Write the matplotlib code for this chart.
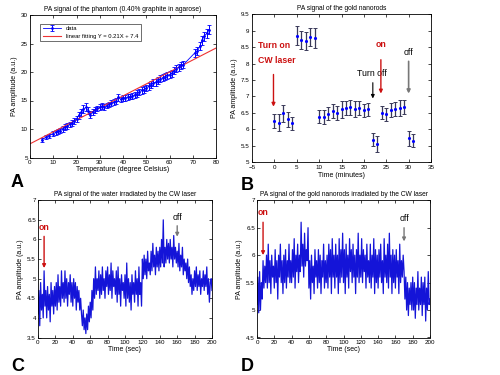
import matplotlib
matplotlib.use("Agg")
import matplotlib.pyplot as plt
import numpy as np

plt.rcParams['font.family'] = ['Liberation Sans', 'DejaVu Sans']

# ---------------- Panel A data ----------------
temp_a = [5, 7, 8, 10, 11, 12, 13, 14, 15, 16, 17, 18, 19, 20, 21, 22, 23, 24, 25, 26,
          27, 28, 29, 30, 31, 32, 33, 34, 35, 36, 37, 38, 39, 40, 41, 42, 43, 44, 45, 46,
          47, 48, 49, 50, 51, 52, 53, 54, 55, 56, 57, 58, 59, 60, 61, 62, 63, 64, 65, 66,
          71, 72, 73, 74, 75, 76, 77]
pa_a = [8.1, 8.6, 8.8, 9.2, 9.4, 9.6, 9.7, 10.0, 10.3, 10.5, 10.8, 11.1, 11.4, 11.8, 12.4, 12.9, 13.5, 13.8, 13.2, 12.5,
        13.0, 13.3, 13.6, 13.8, 14.0, 13.9, 14.1, 14.3, 14.6, 14.7, 14.9, 15.6, 15.2, 15.4, 15.5, 15.6, 15.7, 15.8, 16.0, 16.2,
        16.5, 16.8, 16.9, 17.2, 17.5, 17.8, 18.1, 18.2, 18.5, 18.8, 19.0, 19.2, 19.4, 19.5, 19.8, 20.2, 20.6, 20.8, 21.2, 21.3,
        23.4, 23.6, 24.5, 25.6, 26.3, 26.8, 27.4]
err_a = [0.4, 0.4, 0.4, 0.4, 0.4, 0.4, 0.4, 0.5, 0.5, 0.5, 0.5, 0.5, 0.5, 0.5, 0.6, 0.6, 0.7, 0.7, 0.6, 0.6,
         0.5, 0.5, 0.5, 0.5, 0.5, 0.5, 0.5, 0.5, 0.5, 0.5, 0.5, 0.6, 0.5, 0.5, 0.5, 0.5, 0.5, 0.5, 0.5, 0.6,
         0.6, 0.6, 0.6, 0.6, 0.6, 0.6, 0.6, 0.6, 0.6, 0.6, 0.6, 0.6, 0.6, 0.6, 0.6, 0.6, 0.6, 0.6, 0.6, 0.6,
         0.7, 0.7, 0.7, 0.8, 0.8, 0.8, 0.8]
fit_slope = 0.21
fit_intercept = 7.4
fit_x = [0, 80]

# ---------------- Panel B data ----------------
time_b = [0, 1, 2, 3, 4, 5, 6, 7, 8, 9, 10, 11, 12, 13, 14, 15, 16, 17, 18, 19, 20, 21,
          22, 23, 24, 25, 26, 27, 28, 29, 30, 31]
pa_b = [6.25, 6.2, 6.48, 6.3, 6.18, 8.85, 8.72, 8.68, 8.8, 8.78, 6.38, 6.37, 6.47, 6.55, 6.5, 6.6,
        6.65, 6.66, 6.62, 6.65, 6.58, 6.6, 5.68, 5.55, 6.5, 6.45, 6.58, 6.62, 6.65, 6.68, 5.72, 5.65]
err_b = [0.2, 0.25, 0.25, 0.22, 0.2, 0.28, 0.28, 0.28, 0.27, 0.3, 0.2, 0.2, 0.2, 0.22, 0.22, 0.25,
         0.22, 0.22, 0.25, 0.22, 0.2, 0.2, 0.2, 0.25, 0.2, 0.2, 0.22, 0.22, 0.25, 0.22, 0.22, 0.2]

# ---------------- Panel C data (water) ----------------
pa_c = [4.1, 4.7, 3.8, 4.9, 4.2, 4.6, 4.0, 5.2, 4.3, 4.7,
        4.0, 4.8, 4.2, 4.6, 3.9, 4.9, 4.3, 4.7, 4.1, 4.8,
        4.3, 4.9, 4.2, 5.1, 4.4, 4.8, 4.3, 5.2, 4.5, 4.9,
        4.4, 5.2, 4.5, 5.0, 4.3, 4.9, 4.6, 5.1, 4.4, 4.9,
        4.3, 5.0, 4.5, 4.9, 4.2, 4.8, 4.4, 4.7, 4.2, 4.5,
        4.1, 3.8, 4.2, 3.7, 4.0, 3.6, 4.1, 3.7, 4.3, 3.9,
        4.4, 4.0, 4.7, 4.2, 5.0, 4.5, 5.3, 4.6, 5.0, 4.7,
        5.2, 4.5, 5.1, 4.6, 5.3, 4.7, 5.0, 4.5, 5.2, 4.8,
        5.3, 4.6, 5.1, 4.7, 5.4, 4.5, 5.2, 4.8, 5.0, 4.6,
        5.2, 4.4, 5.3, 4.6, 5.0, 4.3, 5.1, 4.7, 4.9, 4.5,
        5.1, 4.3, 5.4, 4.5, 5.0, 4.4, 4.9, 4.2, 5.1, 4.6,
        4.9, 4.4, 5.2, 4.6, 5.0, 4.3, 5.3, 4.6, 4.9, 4.3,
        5.5, 5.0, 5.6, 5.1, 5.5, 5.0, 5.7, 5.2, 5.4, 5.1,
        5.7, 5.2, 5.9, 5.3, 5.6, 5.1, 5.8, 5.3, 5.7, 5.2,
        5.8, 5.3, 6.0, 5.4, 6.5, 5.3, 5.8, 5.4, 6.0, 5.5,
        5.9, 5.4, 6.0, 5.5, 5.8, 5.3, 6.1, 5.5, 5.8, 5.4,
        5.7, 5.3, 5.9, 5.2, 5.6, 5.3, 5.8, 5.1, 5.5, 5.2,
        5.4, 5.0, 5.5, 4.9, 5.3, 4.8, 5.1, 4.6, 5.0, 4.7,
        5.2, 4.8, 5.3, 4.7, 5.1, 4.8, 5.2, 4.6, 5.0, 4.8,
        5.2, 4.7, 5.1, 4.8, 5.3, 4.6, 5.0, 4.4, 4.9, 5.0, 4.7]

# ---------------- Panel D data (gold nanorods) ----------------
pa_d = [5.1, 5.6, 4.95, 5.7, 5.0, 5.5, 5.2, 5.9, 5.4, 5.8,
        5.5, 6.0, 5.4, 6.2, 5.5, 5.9, 5.3, 6.0, 5.6, 5.8,
        5.4, 6.1, 5.5, 5.9, 5.2, 6.0, 5.6, 6.2, 5.5, 5.9,
        5.3, 6.0, 5.5, 6.1, 5.4, 5.9, 5.6, 6.2, 5.5, 5.9,
        5.5, 6.1, 5.6, 6.3, 5.4, 6.0, 5.7, 6.2, 5.5, 6.0,
        5.7, 6.6, 5.8, 6.2, 5.6, 6.4, 5.8, 6.1, 5.9, 6.5,
        5.4, 5.9, 5.2, 6.0, 5.5, 5.8, 5.3, 6.1, 5.6, 5.9,
        5.4, 6.1, 5.5, 6.0, 5.3, 5.9, 5.6, 6.2, 5.4, 5.9,
        5.5, 6.0, 5.4, 6.2, 5.6, 6.1, 5.3, 6.3, 5.6, 6.0,
        5.4, 6.2, 5.6, 6.0, 5.3, 6.3, 5.5, 6.1, 5.6, 6.4,
        5.5, 6.1, 5.3, 6.2, 5.6, 6.0, 5.4, 6.3, 5.7, 6.1,
        5.5, 6.2, 5.6, 6.0, 5.3, 6.1, 5.6, 6.4, 5.5, 6.0,
        5.6, 6.3, 5.5, 6.1, 5.7, 6.0, 5.4, 6.2, 5.6, 5.9,
        5.5, 6.2, 5.4, 6.0, 5.6, 6.3, 5.3, 6.1, 5.5, 6.0,
        5.4, 6.1, 5.6, 6.2, 5.5, 5.9, 5.3, 6.3, 5.6, 6.0,
        5.5, 6.2, 5.4, 6.4, 5.6, 6.0, 5.3, 6.1, 5.5, 6.0,
        5.4, 6.1, 5.6, 5.9, 5.3, 6.2, 5.5, 5.9, 5.6, 6.0,
        5.7, 5.2, 5.6, 5.0, 5.5, 4.9, 5.4, 5.1, 5.5, 5.0,
        5.6, 5.0, 5.5, 4.85, 5.4, 5.1, 5.7, 5.0, 5.4, 5.1,
        5.6, 4.9, 5.5, 5.1, 5.6, 4.8, 5.4, 5.0, 5.7, 5.1, 5.2]
time_cd = list(range(len(pa_c)))

TICK = 4.5
LAB = 5
TITLE = 4.8
ANN = 6.3
RED = '#cc1111'
BLUE = '#0000ff'
NOISE = '#1414d8'

fig = plt.figure(figsize=(5, 3.75), dpi=100)


def style(ax, xpad=1.5, ypad=1.5):
    ax.tick_params(direction='in', labelsize=TICK, length=2.5, width=0.5,
                   top=True, right=True)
    ax.tick_params(axis='x', pad=xpad)
    ax.tick_params(axis='y', pad=ypad)
    for s in ax.spines.values():
        s.set_linewidth(0.6)


# ---------- A ----------
axA = fig.add_axes([0.06, 0.58, 0.372, 0.38])
hData = axA.errorbar(temp_a, pa_a, yerr=err_a, color=BLUE, marker='.', ms=2, lw=0.6,
                     elinewidth=0.7, capsize=1.5, capthick=0.6, label='data')
fx = np.array(fit_x, dtype=float)
hFit, = axA.plot(fx, fit_slope * fx + fit_intercept, color='#ee3333', lw=0.8,
                 label='linear fitting Y = 0.21X + 7.4')
axA.set_xlim(0, 80)
axA.set_ylim(5, 30)
axA.set_xticks(range(0, 81, 10))
axA.set_yticks(range(5, 31, 5))
axA.set_xlabel('Temperature (degree Celsius)', fontsize=LAB, labelpad=1)
axA.set_ylabel('PA amplitude (a.u.)', fontsize=LAB, labelpad=2)
axA.set_title('PA signal of the phantom (0.40% graphite in agarose)', fontsize=TITLE, pad=3)
leg = axA.legend([hData, hFit], ['data', 'linear fitting Y = 0.21X + 7.4'],
                 loc='upper left', fontsize=4.2, frameon=True, fancybox=False,
                 edgecolor='black', borderpad=0.4, handlelength=3.2,
                 bbox_to_anchor=(0.04, 0.96))
leg.get_frame().set_linewidth(0.5)
style(axA)

# ---------- B ----------
axB = fig.add_axes([0.504, 0.568, 0.358, 0.394])
axB.errorbar(time_b, pa_b, yerr=err_b, fmt='.', color=BLUE, ms=2.5,
             ecolor='#3a3a5a', elinewidth=0.9, capsize=1.6, capthick=0.7)
axB.set_xlim(-5, 35)
axB.set_ylim(5, 9.5)
axB.set_xticks(range(-5, 36, 5))
axB.set_yticks([5, 5.5, 6, 6.5, 7, 7.5, 8, 8.5, 9, 9.5])
axB.set_yticklabels(['5', '5.5', '6', '6.5', '7', '7.5', '8', '8.5', '9', '9.5'])
axB.set_xlabel('Time (minutes)', fontsize=LAB, labelpad=1)
axB.set_ylabel('PA amplitude (a.u.)', fontsize=LAB, labelpad=2)
axB.set_title('PA signal of the gold nanorods', fontsize=TITLE, pad=3)
axB.text(-3.7, 8.4, 'Turn on', color=RED, fontsize=ANN, fontweight='bold', ha='left', va='bottom')
axB.text(-3.7, 7.95, 'CW laser', color=RED, fontsize=ANN, fontweight='bold', ha='left', va='bottom')
axB.annotate('', xy=(-0.2, 6.6), xytext=(-0.2, 7.75),
             arrowprops=dict(arrowstyle='-|>', color=RED, lw=1.0, mutation_scale=5))
axB.text(21.8, 7.55, 'Turn off', color='black', fontsize=ANN, ha='center', va='bottom')
axB.annotate('', xy=(22, 6.85), xytext=(22, 7.5),
             arrowprops=dict(arrowstyle='-|>', color='black', lw=0.8, mutation_scale=5))
axB.text(23.8, 8.45, 'on', color=RED, fontsize=ANN, fontweight='bold', ha='center', va='bottom')
axB.annotate('', xy=(23.8, 7.0), xytext=(23.8, 8.2),
             arrowprops=dict(arrowstyle='-|>', color=RED, lw=1.0, mutation_scale=5))
axB.text(30, 8.2, 'off', color='black', fontsize=ANN, ha='center', va='bottom')
axB.annotate('', xy=(30, 7.0), xytext=(30, 8.15),
             arrowprops=dict(arrowstyle='-|>', color='#777777', lw=1.2, mutation_scale=5))
style(axB, xpad=2.5, ypad=2.0)

# ---------- C ----------
axC = fig.add_axes([0.076, 0.1, 0.348, 0.366])
axC.plot(time_cd, pa_c, color=NOISE, lw=0.9)
axC.set_xlim(0, 200)
axC.set_ylim(3.5, 7)
axC.set_xticks(range(0, 201, 20))
axC.set_yticks([3.5, 4, 4.5, 5, 5.5, 6, 6.5, 7])
axC.set_yticklabels(['3.5', '4', '4.5', '5', '5.5', '6', '6.5', '7'])
axC.set_xlabel('Time (sec)', fontsize=LAB, labelpad=1)
axC.set_ylabel('PA amplitude (a.u.)', fontsize=LAB, labelpad=2)
axC.set_title('PA signal of the water irradiated by the CW laser', fontsize=TITLE, pad=3)
axC.text(7, 6.2, 'on', color=RED, fontsize=ANN, fontweight='bold', ha='center', va='bottom')
axC.annotate('', xy=(7, 5.2), xytext=(7, 6.15),
             arrowprops=dict(arrowstyle='-|>', color=RED, lw=1.0, mutation_scale=5))
axC.text(160, 6.45, 'off', color='black', fontsize=ANN, ha='center', va='bottom')
axC.annotate('', xy=(160, 6.0), xytext=(160, 6.42),
             arrowprops=dict(arrowstyle='-|>', color='#777777', lw=1.0, mutation_scale=5))
style(axC)

# ---------- D ----------
axD = fig.add_axes([0.514, 0.1, 0.346, 0.366])
axD.plot(time_cd, pa_d, color=NOISE, lw=0.9)
axD.set_xlim(0, 200)
axD.set_ylim(4.5, 7)
axD.set_xticks(range(0, 201, 20))
axD.set_yticks([4.5, 5, 5.5, 6, 6.5, 7])
axD.set_yticklabels(['4.5', '5', '5.5', '6', '6.5', '7'])
axD.set_xlabel('Time (sec)', fontsize=LAB, labelpad=1)
axD.set_ylabel('PA amplitude (a.u.)', fontsize=LAB, labelpad=2)
axD.set_title('PA signal of the gold nanorods irradiated by the CW laser', fontsize=TITLE, pad=3)
axD.text(7, 6.7, 'on', color=RED, fontsize=ANN, fontweight='bold', ha='center', va='bottom')
axD.annotate('', xy=(7, 5.95), xytext=(7, 6.65),
             arrowprops=dict(arrowstyle='-|>', color=RED, lw=1.0, mutation_scale=5))
axD.text(170, 6.58, 'off', color='black', fontsize=ANN, ha='center', va='bottom')
axD.annotate('', xy=(170, 6.2), xytext=(170, 6.55),
             arrowprops=dict(arrowstyle='-|>', color='#777777', lw=1.0, mutation_scale=5))
style(axD)

# Panel letters
for lx, ly, letter in [(0.022, 0.535, 'A'), (0.482, 0.528, 'B'), (0.022, 0.045, 'C'), (0.482, 0.045, 'D')]:
    fig.text(lx, ly, letter, fontsize=13, fontweight='bold', ha='left', va='top')

fig.savefig('out.png', dpi=100)
